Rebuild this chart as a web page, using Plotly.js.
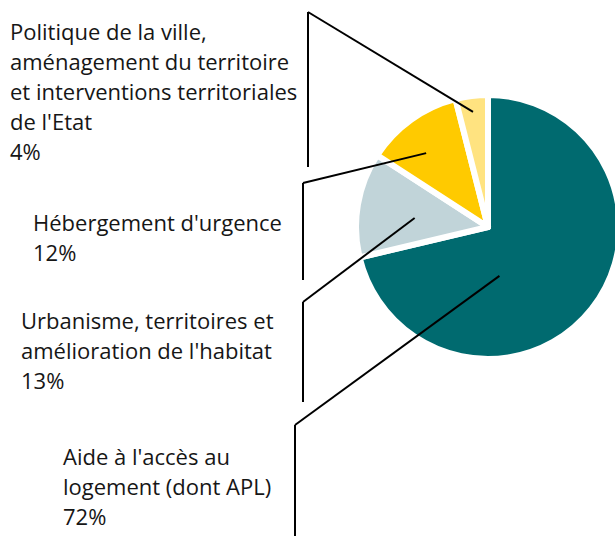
<!DOCTYPE html>
<html>
<head>
<meta charset="utf-8">
<script src="https://cdn.plot.ly/plotly-3.0.1.min.js"></script>
<style>html,body{margin:0;padding:0;background:#fff;overflow:hidden;width:615px;height:536px;}#chart{width:620px;height:536px;}</style>
</head>
<body>
<div id="chart"></div>
<script>
// ---- data ----
const categories = [
  "Aide à l'accès au logement (dont APL)",
  "Urbanisme, territoires et amélioration de l'habitat",
  "Hébergement d'urgence",
  "Politique de la ville, aménagement du territoire et interventions territoriales de l'Etat"
];
const values = [72, 13, 12, 4];
const labelLines = [
  ["Aide à l'accès au", "logement (dont APL)"],
  ["Urbanisme, territoires et", "amélioration de l'habitat"],
  ["Hébergement d'urgence"],
  ["Politique de la ville,", "aménagement du territoire", "et interventions territoriales", "de l'Etat"]
];
const colors = ['#006A6F', '#C1D4D9', '#FFCA00', '#FFE380'];

// ---- layout (pixels) ----
const W = 620, H = 536;
const pieC = [488, 227], pieR = 132;
const dom = {x: [(pieC[0] - pieR) / W, (pieC[0] + pieR) / W], y: [1 - (pieC[1] + pieR) / H, 1 - (pieC[1] - pieR) / H]};
const cx = pieC[0], cy = pieC[1], R = pieR;
const lineH = 30;
// per label: text left x, first line centre y, bracket x, bracket top, bracket bottom, anchor frac in slice, radius frac
const place = [
  {tx: 61, ty: 456, bx: 295, bt: 425, bb: 540, af: 0.65, rf: 0.38},
  {tx: 19, ty: 320, bx: 303, bt: 302, bb: 402, af: 0.44, rf: 0.56},
  {tx: 31, ty: 222, bx: 303, bt: 183, bb: 280, af: 0.40, rf: 0.73},
  {tx: 8,  ty: 31,  bx: 308, bt: 12,  bb: 167, af: 0.48, rf: 0.88}
];
const px = x => x / W, py = y => 1 - y / H;

const total = values.reduce((a, b) => a + b, 0);
const annotations = [], shapes = [];
let cum = 0;
values.forEach((v, i) => {
  const p = place[i];
  const theta = 2 * Math.PI * (cum + p.af * v) / total;
  cum += v;
  const ax = cx + R * p.rf * Math.sin(theta);
  const ay = cy - R * p.rf * Math.cos(theta);
  const lines = labelLines[i].concat([v + '%']);
  lines.forEach((t, k) => {
    annotations.push({
      xref: 'paper', yref: 'paper', x: px(p.tx), y: py(p.ty + k * lineH),
      xanchor: 'left', yanchor: 'middle', showarrow: false, text: t,
      font: {family: 'Open Sans, sans-serif', size: 22, color: '#161616'}
    });
  });
  const ln = {color: '#000', width: 2};
  shapes.push({type: 'line', xref: 'paper', yref: 'paper', x0: px(p.bx), y0: py(p.bt), x1: px(p.bx), y1: py(p.bb), line: ln});
  shapes.push({type: 'line', xref: 'paper', yref: 'paper', x0: px(p.bx), y0: py(p.bt), x1: px(ax), y1: py(ay), line: ln});
});

const trace = {
  type: 'pie', labels: categories, values: values, sort: false,
  direction: 'clockwise', rotation: 0,
  marker: {colors: colors, line: {color: '#ffffff', width: 6}},
  textinfo: 'none', hoverinfo: 'label+percent', domain: dom, showlegend: false
};

Plotly.newPlot('chart', [trace], {
  width: W, height: H, margin: {l: 0, r: 0, t: 0, b: 0},
  paper_bgcolor: '#fff', showlegend: false,
  annotations: annotations, shapes: shapes
}, {staticPlot: true});
</script>
</body>
</html>
